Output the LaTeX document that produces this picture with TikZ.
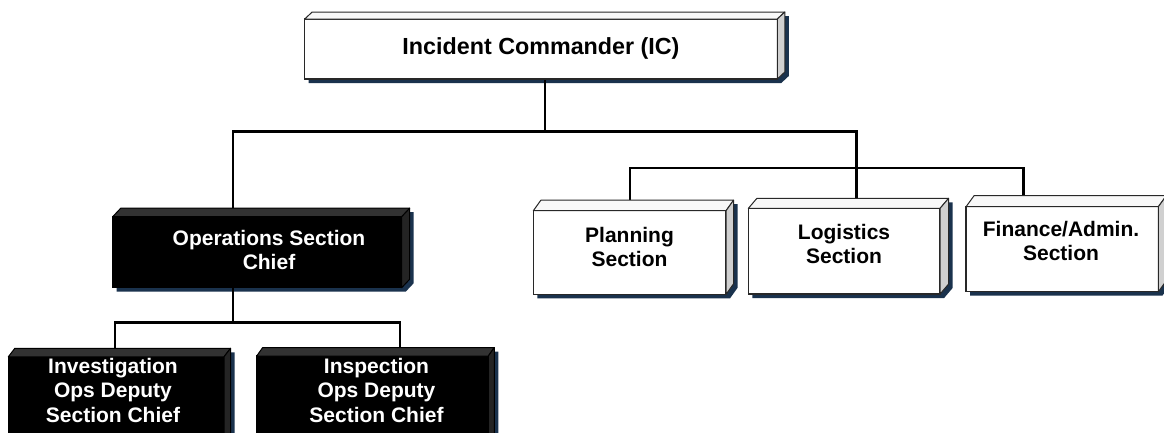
\documentclass[tikz,border=0pt]{standalone}
\usepackage{fontspec}
\setmainfont{Liberation Sans}
\usetikzlibrary{calc}
\pgfdeclarelayer{bg}
\pgfdeclarelayer{lines}
\pgfsetlayers{bg,lines,main}
\definecolor{shadowc}{RGB}{26,50,77}
\definecolor{sidec}{RGB}{208,208,208}
\definecolor{topc}{RGB}{248,248,248}
\definecolor{dtopc}{RGB}{50,50,50}
\definecolor{dsidec}{RGB}{36,36,36}
\definecolor{edgec}{RGB}{40,40,40}
\tikzset{
  box/.style={rectangle, inner sep=0pt, outer sep=0pt, line width=1.2pt},
  wbox/.style={box, draw=edgec, fill=white},
  bbox/.style={box, draw=black, fill=black},
  wtext/.style={font=\bfseries\fontsize{21}{24.5}\selectfont, align=center, text=black, inner sep=0pt},
  btext/.style={wtext, text=white},
  ictext/.style={wtext, font=\bfseries\fontsize{23.3}{27}\selectfont},
  conn/.style={line width=2.8pt, draw=black},
}
% #1 node, #2 dx, #3 dy, #4 top colour, #5 side colour, #6 edge colour
\newcommand{\boxfaces}[6]{%
  \begin{pgfonlayer}{bg}
    \fill[shadowc] ([shift={(4pt,-4pt)}]#1.south west) -- ([shift={(4pt,-4pt)}]#1.south east)
      -- ([shift={(#2pt+4pt,#3pt-4pt)}]#1.south east) -- ([shift={(#2pt+4pt,#3pt-4pt)}]#1.north east)
      -- ([shift={(#2pt+4pt,#3pt-4pt)}]#1.north west) -- ([shift={(4pt,-4pt)}]#1.north west) -- cycle;
  \end{pgfonlayer}
  \filldraw[fill=#4, draw=#6, line width=1pt, line join=round] (#1.north west) -- ([shift={(#2pt,#3pt)}]#1.north west)
    -- ([shift={(#2pt,#3pt)}]#1.north east) -- (#1.north east) -- cycle;
  \filldraw[fill=#5, draw=#6, line width=1pt, line join=round] (#1.north east) -- ([shift={(#2pt,#3pt)}]#1.north east)
    -- ([shift={(#2pt,#3pt)}]#1.south east) -- (#1.south east) -- cycle;
}
\begin{document}
\begin{tikzpicture}[x=1pt, y=-1pt]
\useasboundingbox (0,0) rectangle (1164,432);
\begin{pgfonlayer}{bg}
  \fill[white] (0,0) rectangle (1164,432);
\end{pgfonlayer}

% boxes (front faces)
\node[wbox, minimum width=472.6pt, minimum height=60pt] (ic) at (541,49) {};
\node[bbox, minimum width=289pt, minimum height=71pt] (ops) at (257.2,252.2) {};
\node[bbox, minimum width=215.7pt, minimum height=103.3pt] (inv) at (116.2,408.4) {};
\node[bbox, minimum width=231.6pt, minimum height=104pt] (insp) at (372.5,408) {};
\node[wbox, minimum width=192.7pt, minimum height=83.6pt] (plan) at (629.7,252.5) {};
\node[wbox, minimum width=191.7pt, minimum height=85.7pt] (log) at (844.2,251.2) {};
\node[wbox, minimum width=192.3pt, minimum height=85pt] (fin) at (1062.2,249.2) {};

\boxfaces{ic}{7.5}{7}{topc}{sidec}{edgec}
\boxfaces{ops}{8}{8.5}{dtopc}{dsidec}{black}
\boxfaces{inv}{6.5}{8.5}{dtopc}{dsidec}{black}
\boxfaces{insp}{6}{8.5}{dtopc}{dsidec}{black}
\boxfaces{plan}{7.5}{10.5}{topc}{sidec}{edgec}
\boxfaces{log}{8.5}{10}{topc}{sidec}{edgec}
\boxfaces{fin}{8}{11}{topc}{sidec}{edgec}

% texts
\node[ictext] (ict) at (541,48) {Incident Commander (IC)};
\node[btext] (opst) at (269,250) {Operations Section\\Chief};
\node[btext] (invt) at (113,390) {Investigation\\Ops Deputy\\Section Chief};
\node[btext] (inspt) at (376.5,390) {Inspection\\Ops Deputy\\Section Chief};
\node[wtext] (plant) at (629.5,247) {Planning\\Section};
\node[wtext] (logt) at (844,244) {Logistics\\Section};
\node[wtext] (fint) at (1061,241) {Finance/Admin.\\Section};

% junctions
\coordinate (j0) at (545,131.5);
\coordinate (jl) at (233,131.5);
\coordinate (jr) at (856.7,131.5);
\coordinate (kl) at (630,168);
\coordinate (kr) at (1023.3,168);
\coordinate (m0) at (233,322.7);
\coordinate (ml) at (115,322.7);
\coordinate (mr) at (400,322.7);

\begin{pgfonlayer}{lines}
  \draw[conn] (ic.south -| j0) -- (j0);
  \draw[conn] (ops.north -| jl) -- (jl) -- (jr) -- (log.north -| jr);
  \draw[conn] (plan.north -| kl) -- (kl) -- (kr) -- (fin.north -| kr);
  \draw[conn] (ops.south -| m0) -- (m0);
  \draw[conn] (inv.north -| ml) -- (ml) -- (mr) -- (insp.north -| mr);
\end{pgfonlayer}
\end{tikzpicture}
\end{document}
